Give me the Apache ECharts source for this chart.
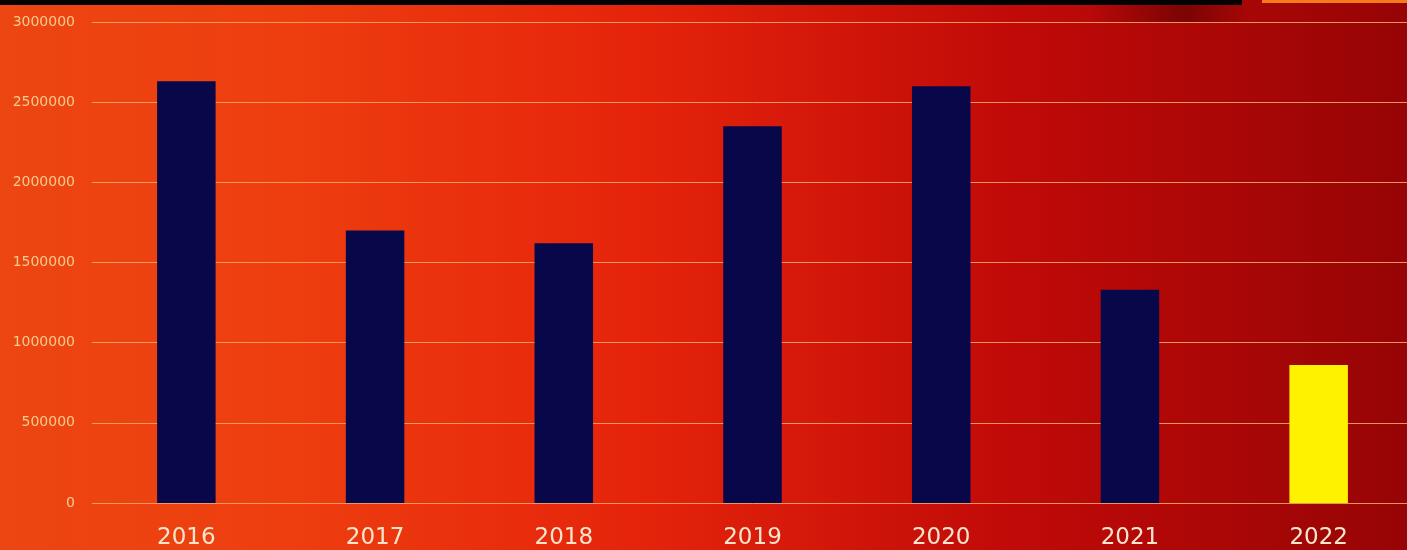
<!DOCTYPE html>
<html>
<head>
<meta charset="utf-8">
<style>
  html, body { margin: 0; padding: 0; background: #c01008; overflow: hidden; }
  #chart { width: 1413px; height: 550px; }
</style>
<script src="https://cdn.jsdelivr.net/npm/echarts@6/dist/echarts.min.js"></script>
</head>
<body>
<div id="chart"></div>
<script>
// Yearly totals
const years = ['2016', '2017', '2018', '2019', '2020', '2021', '2022'];
const totals = [2630000, 1700000, 1620000, 2350000, 2600000, 1330000, 860000];
const yTicks = { min: 0, max: 3000000, interval: 500000 };

const navy = '#07074a';
const highlight = '#fff200';
const lastIndex = years.length - 1;

const chart = echarts.init(document.getElementById('chart'), null, { renderer: 'canvas' });

chart.setOption({
  animation: false,
  backgroundColor: {
    type: 'linear', x: 0, y: 0, x2: 1, y2: 0,
    colorStops: [
      { offset: 0, color: '#ec4612' },
      { offset: 0.2, color: '#ee3e0f' },
      { offset: 0.45, color: '#e5240b' },
      { offset: 0.72, color: '#c00a08' },
      { offset: 1, color: '#960405' }
    ]
  },
  graphic: [
    // dark band along the top edge
    {
      type: 'rect', left: 0, top: 0, z: 10,
      shape: { width: 1242, height: 5 },
      style: { fill: '#050202' }
    },
    {
      type: 'rect', left: 1090, top: 0, z: 9,
      shape: { width: 160, height: 22 },
      style: {
        fill: {
          type: 'linear', x: 0, y: 0, x2: 1, y2: 0,
          colorStops: [
            { offset: 0, color: 'rgba(60,0,0,0)' },
            { offset: 0.6, color: 'rgba(60,0,0,0.45)' },
            { offset: 1, color: 'rgba(60,0,0,0)' }
          ]
        }
      }
    },
    {
      type: 'rect', left: 1262, top: 0, z: 10,
      shape: { width: 151, height: 3 },
      style: { fill: '#f57a1a' }
    }
  ],
  grid: { left: 92, right: 0, top: 22, bottom: 45, containLabel: false },
  xAxis: {
    type: 'category',
    data: years,
    axisLine: { show: false },
    axisTick: { show: false },
    axisLabel: {
      color: '#f6e6cc',
      fontFamily: 'DejaVu Sans',
      fontSize: 23,
      margin: 24
    }
  },
  yAxis: {
    type: 'value',
    min: yTicks.min,
    max: yTicks.max,
    interval: yTicks.interval,
    axisLine: { show: false },
    axisTick: { show: false },
    axisLabel: {
      color: '#f7cc8c',
      fontFamily: 'DejaVu Sans',
      fontSize: 14,
      margin: 17,
      formatter: (v) => String(v)
    },
    splitLine: { lineStyle: { color: '#f2a466', width: 1, opacity: 0.9 } }
  },
  series: [{
    type: 'bar',
    data: totals.map((v, i) => ({
      value: v,
      itemStyle: { color: i === lastIndex ? highlight : navy }
    })),
    barWidth: '31%'
  }]
});
</script>
</body>
</html>
